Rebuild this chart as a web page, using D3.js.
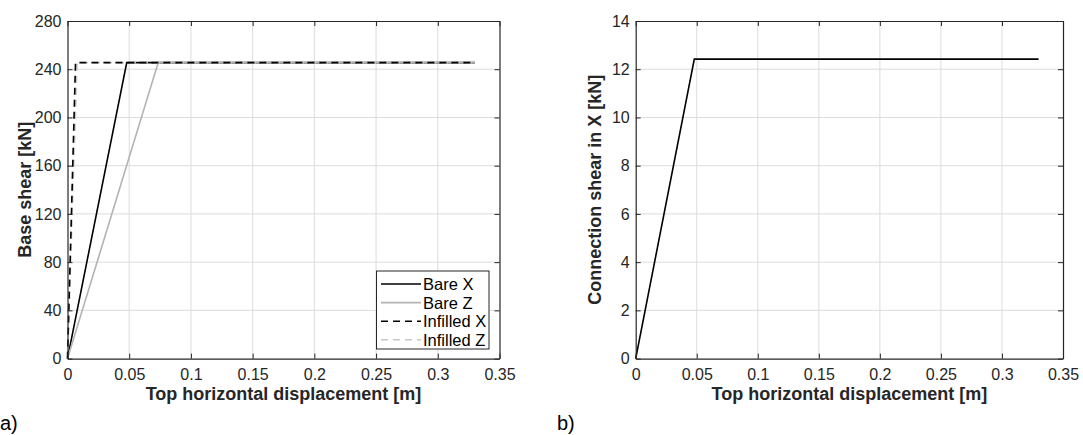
<!DOCTYPE html>
<html><head><meta charset="utf-8">
<script src="https://cdn.jsdelivr.net/npm/d3@7"></script>
<style>body{margin:0;background:#fff}svg{display:block}text{font-family:"Liberation Sans",Arial,sans-serif}</style>
</head><body>
<svg id="c" width="1083" height="435"></svg>
<script>
const xTicks = [0,0.05,0.1,0.15,0.2,0.25,0.3,0.35];
const xTickLabels = ["0","0.05","0.1","0.15","0.2","0.25","0.3","0.35"];
const yTicksA = [0,40,80,120,160,200,240,280];
const yTicksB = [0,2,4,6,8,10,12,14];
const bareX = [[0,0],[0.048,245.5],[0.33,245.5]];
const bareZ = [[0,0],[0.0735,245.5],[0.33,245.5]];
const infilledX = [[0,0],[0.0065,245.5],[0.33,245.5]];
const infilledZ = [[0,0],[0.0078,245.5],[0.33,245.5]];
const connX = [[0,0],[0.048,12.42],[0.33,12.42]];
const legendNames = ["Bare X","Bare Z","Infilled X","Infilled Z"];

const svg = d3.select("#c");
const tc = "#262626";

function panel(o){
  const g = svg.append("g");
  const x = d3.scaleLinear().domain([0,0.35]).range([o.x0,o.x1]);
  const y = d3.scaleLinear().domain([0,o.ymax]).range([o.y0,o.y1]);
  g.selectAll(".gx").data(xTicks.slice(1,-1)).enter().append("line")
    .attr("x1",d=>x(d)).attr("x2",d=>x(d)).attr("y1",o.y0).attr("y2",o.y1)
    .attr("stroke","#dcdcdc").attr("stroke-width",1);
  g.selectAll(".gy").data(o.yTicks.slice(1,-1)).enter().append("line")
    .attr("y1",d=>y(d)).attr("y2",d=>y(d)).attr("x1",o.x0).attr("x2",o.x1)
    .attr("stroke","#dcdcdc").attr("stroke-width",1);
  const line = d3.line().x(d=>x(d[0])).y(d=>y(d[1]));
  o.series.forEach(s=>{
    g.append("path").attr("d",line(s.data)).attr("fill","none")
      .attr("stroke",s.color).attr("stroke-width",1.6)
      .attr("stroke-dasharray",s.dash||null);
  });
  const ax = d3.axisBottom(x).tickValues(xTicks).tickFormat((d,i)=>xTickLabels[i]).tickSizeInner(-5).tickSizeOuter(0).tickPadding(10);
  const gx = g.append("g").attr("transform",`translate(0,${o.y0})`).call(ax);
  const axT = d3.axisTop(x).tickValues(xTicks).tickFormat("").tickSizeInner(-5).tickSizeOuter(0);
  const gxt = g.append("g").attr("transform",`translate(0,${o.y1})`).call(axT);
  const ay = d3.axisLeft(y).tickValues(o.yTicks).tickSizeInner(-5).tickSizeOuter(0).tickPadding(6);
  const gy = g.append("g").attr("transform",`translate(${o.x0},0)`).call(ay);
  const ayR = d3.axisRight(y).tickValues(o.yTicks).tickFormat("").tickSizeInner(-5).tickSizeOuter(0);
  const gyr = g.append("g").attr("transform",`translate(${o.x1},0)`).call(ayR);
  [gx,gxt,gy,gyr].forEach(a=>{
    a.select(".domain").attr("stroke",tc).attr("stroke-width",1.2);
    a.selectAll(".tick line").attr("stroke",tc).attr("stroke-width",1);
    a.selectAll("text").attr("fill",tc).style("font-size","16px").style("font-family",'"Liberation Sans",Arial,sans-serif');
  });
  g.append("text").attr("x",(o.x0+o.x1)/2).attr("y",o.y0+41).attr("text-anchor","middle")
    .attr("fill",tc).style("font-size","18px").style("font-weight","bold").text("Top horizontal displacement [m]");
  g.append("text").attr("transform",`translate(${o.ylx},${(o.y0+o.y1)/2}) rotate(-90)`).attr("text-anchor","middle")
    .attr("fill",tc).style("font-size","18px").style("font-weight","bold").text(o.ylabel);
  g.append("text").attr("x",o.tagx).attr("y",430).attr("fill","#000").style("font-size","20px").text(o.tag);
  return {g,x,y};
}

const seriesA = [
  {data:bareX,color:"#000000"},
  {data:bareZ,color:"#b3b3b3"},
  {data:infilledZ,color:"#c8c8c8",dash:"7,5"},
  {data:infilledX,color:"#000000",dash:"7,5"}
];
const A = panel({x0:67.5,x1:499.5,y0:358.6,y1:21,ymax:280,yTicks:yTicksA,series:seriesA,
  ylabel:"Base shear [kN]",ylx:31,tag:"a)",tagx:0});
panel({x0:635.7,x1:1063,y0:358.6,y1:21,ymax:14,yTicks:yTicksB,series:[{data:connX,color:"#000000"}],
  ylabel:"Connection shear in X [kN]",ylx:601,tag:"b)",tagx:557});

const lg = A.g.append("g");
lg.append("rect").attr("x",376.5).attr("y",271).attr("width",112.5).attr("height",78)
  .attr("fill","#fff").attr("stroke","#262626").attr("stroke-width",1);
const legStyles = [
  {color:"#000",dash:null},{color:"#b3b3b3",dash:null},{color:"#000",dash:"7,5"},{color:"#c8c8c8",dash:"7,5"}];
legendNames.forEach((n,i)=>{
  const yy = 284 + i*18.6;
  lg.append("line").attr("x1",381).attr("x2",421).attr("y1",yy).attr("y2",yy)
    .attr("stroke",legStyles[i].color).attr("stroke-width",1.6).attr("stroke-dasharray",legStyles[i].dash);
  lg.append("text").attr("x",423).attr("y",yy+6).attr("fill","#000").style("font-size","16.5px").text(n);
});
</script>
</body></html>
